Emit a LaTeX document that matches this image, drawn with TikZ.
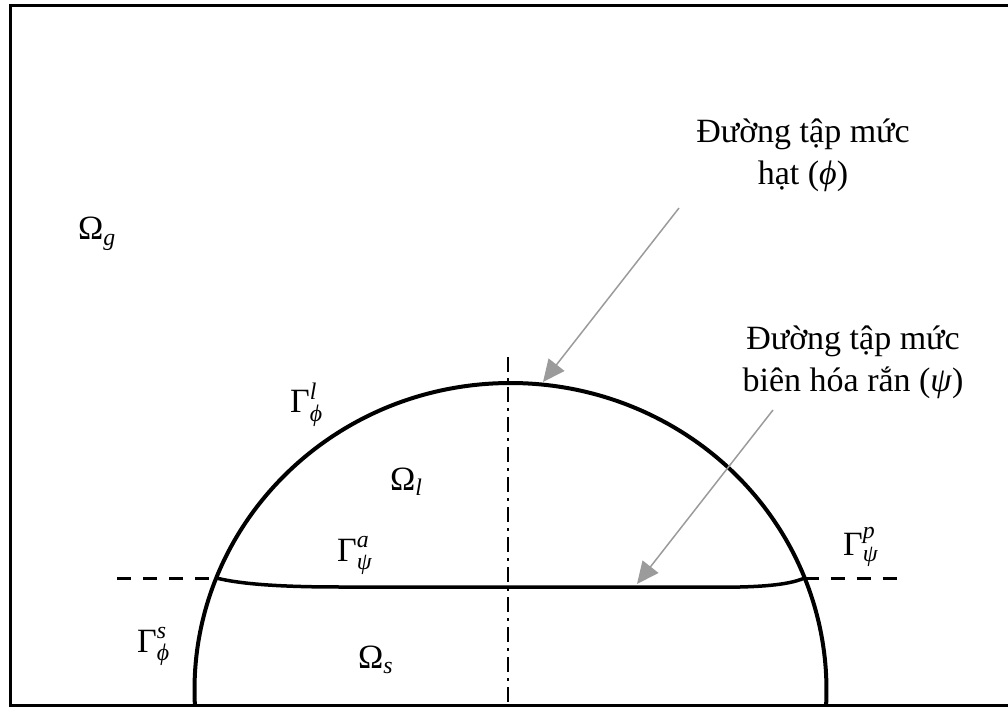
\documentclass[tikz,border=0pt]{standalone}
\definecolor{pointergray}{RGB}{155,155,155}
\usepackage{fix-cm}
\usepackage{amsmath}
\usepackage{fontspec}
\setmainfont{Liberation Serif}
\usetikzlibrary{arrows.meta, positioning, calc}
\newcommand{\gsym}[3]{$\text{#1}^{\text{\itshape #2}}_{\text{\itshape #3}}$}
\newcommand{\osym}[2]{$\text{#1}_{\text{\itshape #2}}$}

\begin{document}
\begin{tikzpicture}[x=1pt, y=1pt,
    lbl/.style={anchor=base west, inner sep=0pt, font=\fontsize{34}{41}\selectfont},
    note/.style={align=center, inner sep=0pt, font=\fontsize{34}{42}\selectfont},
    pointer/.style={draw=pointergray, line width=1.5pt, -{Triangle[length=22pt, width=20pt, fill=pointergray]}},
    front/.style={line width=4pt},
    level/.style={line width=3.5pt},
    extend/.style={line width=3pt, dash pattern=on 14pt off 12pt},
    axis/.style={line width=2pt, dash pattern=on 15pt off 6pt on 3pt off 6pt}]
  \useasboundingbox (0,0) rectangle (1008,707);
  % frame, open on the right
  \draw[line width=3pt] (1008,701) -- (10,701) -- (10,2) -- (1008,2);

  % droplet front and solidification front
  \coordinate (c) at (510.5,17);
  \coordinate (gl) at (216.3,129);
  \coordinate (gr) at (804.7,129);
  \draw[front] (c) ++(182.8:316 and 307)
    arc[start angle=182.8, end angle=-2.8, x radius=316, y radius=307];
  \draw[level] (gl) .. controls (240,123) and (280,120) .. (340,120)
    -- (740,120) .. controls (780,121) and (795,125) .. (gr);
  \coordinate (el) at (117,129);
  \coordinate (er) at (897,129);
  \draw[extend] (el) -- (gl);
  \draw[extend] (gr) -- (er);
  \coordinate (axtop) at (508,350);
  \coordinate (axbot) at (508,2);
  \draw[axis] (axtop) -- (axbot);

  % notes and pointers
  \node[note] (hatnote) at (803,552) {Đường tập mức\\hạt (\textit{ϕ})};
  \node[note] (biennote) at (853,345) {Đường tập mức\\biên hóa rắn (\textit{ψ})};
  \coordinate (hatfrom) at (679,499);
  \coordinate (hatto) at (543,325);
  \coordinate (bienfrom) at (773,297);
  \coordinate (biento) at (637,123);
  \draw[pointer] (hatfrom) -- (hatto);
  \draw[pointer] (bienfrom) -- (biento);

  % labels
  \node[lbl] (omg) at (78,467) {\osym{Ω}{g}};
  \node[lbl] (oml) at (390,217) {\osym{Ω}{l}};
  \node[lbl] (oms) at (358,39) {\osym{Ω}{s}};
  \node[lbl] (gaml) at (290,294) {\gsym{Γ}{l}{ϕ}};
  \node[lbl] (gama) at (337,146) {\gsym{Γ}{a}{ψ}};
  \node[lbl] (gamp) at (843,152) {\gsym{Γ}{p}{ψ}};
  \node[lbl] (gams) at (137,55) {\gsym{Γ}{s}{ϕ}};
\end{tikzpicture}
\end{document}
